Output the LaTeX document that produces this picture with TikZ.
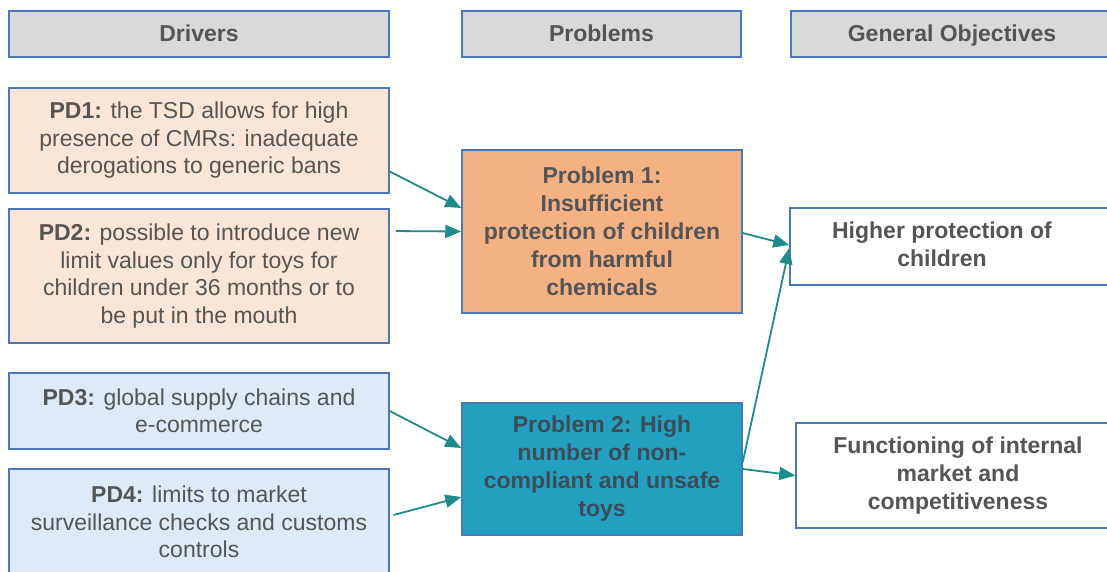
\documentclass[tikz,border=0pt]{standalone}
\usepackage{fontspec}
\setmainfont{Liberation Sans}
\usetikzlibrary{arrows.meta}
\definecolor{bordc}{HTML}{4A78B8}
\definecolor{txtc}{HTML}{555555}
\definecolor{txtd}{HTML}{3E4C58}
\definecolor{hdrc}{HTML}{D9D9D9}
\definecolor{peach}{HTML}{FBE5D6}
\definecolor{lblue}{HTML}{DEEBF7}
\definecolor{orangec}{HTML}{F4B183}
\definecolor{tealbox}{HTML}{21A0C0}
\definecolor{arrc}{HTML}{1E8C8C}
\begin{document}
\begin{tikzpicture}[x=1pt,y=-1pt,
  box/.style={draw=bordc, line width=1.5pt, inner sep=0pt, align=center, text=txtc,
    font=\fontsize{23}{27.5}\selectfont},
  hdr/.style={box, fill=hdrc, minimum height=46pt, text height=19pt, text depth=5pt,
    font=\bfseries\fontsize{23}{27.5}\selectfont},
  bbox/.style={box, font=\bfseries\fontsize{23}{28}\selectfont},
  arr/.style={draw=arrc, line width=1.8pt, -{Triangle[length=16pt,width=13pt]}}]
\useasboundingbox (0,0) rectangle (1107,571);
\clip (0,0) rectangle (1107,571);
\fill[white] (0,0) rectangle (1107,571);

% headers
\node[hdr, minimum width=380pt] (hd) at (199,34) {Drivers};
\node[hdr, minimum width=279pt] (hp) at (601.5,34) {Problems};
\node[hdr, minimum width=330pt] (hg) at (956,34) {\hspace*{-8pt}General Objectives};

% drivers
\node[box, fill=peach, minimum width=380pt, minimum height=105pt] (pd1) at (199,140.5)
  {\textbf{PD1:} the TSD allows for high\\presence of CMRs: inadequate\\derogations to generic bans};
\node[box, fill=peach, minimum width=380pt, minimum height=134pt] (pd2) at (199,276)
  {\textbf{PD2:} possible to introduce new\\limit values only for toys for\\children under 36 months or to\\be put in the mouth};
\node[box, fill=lblue, minimum width=380pt, minimum height=76pt] (pd3) at (199,411)
  {\textbf{PD3:} global supply chains and\\e-commerce};
\node[box, fill=lblue, minimum width=380pt, minimum height=106pt] (pd4) at (199,522)
  {\textbf{PD4:} limits to market\\surveillance checks and customs\\controls};

% problems
\node[bbox, fill=orangec, minimum width=280pt, minimum height=163pt] (p1) at (602,231.5)
  {Problem 1:\\Insufficient\\protection of children\\from harmful\\chemicals};
\node[bbox, fill=tealbox, text=txtd, minimum width=280pt, minimum height=132pt] (p2) at (602,469)
  {Problem 2: High\\number of non-\\compliant and unsafe\\toys};

% objectives
\node[bbox, fill=white, minimum width=330pt, minimum height=77pt] (g1) at (955,246.5)
  {\hspace*{-26pt}\raisebox{-3pt}{\begin{tabular}{@{}c@{}}Higher protection of\\children\end{tabular}}};
\node[bbox, fill=white, minimum width=324pt, minimum height=105pt] (g2) at (958,475.5)
  {Functioning of internal\\market and\\competitiveness};

% connectors
\draw[arr] ([yshift=-31pt]pd1.east) -- ([yshift=23.5pt]p1.west);
\draw[arr, shorten <=6pt] ([yshift=45pt]pd2.east) -- (p1.west);
\draw[arr] ([yshift=-1.5pt]p1.east) -- ([yshift=1.5pt]g1.west);
\draw[arr] ([yshift=7pt]p2.east) -- ([yshift=-1.5pt]g1.west);
\draw[arr] (p2.east) -- (g2.west);
\draw[arr] (pd3.east) -- ([yshift=21pt]p2.west);
\draw[arr, shorten <=4pt] ([yshift=6pt]pd4.east) -- ([yshift=-28pt]p2.west);
\end{tikzpicture}
\end{document}
